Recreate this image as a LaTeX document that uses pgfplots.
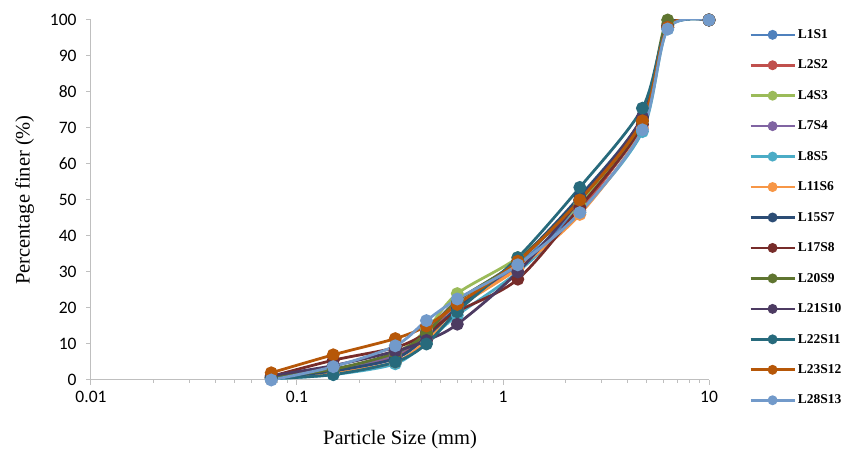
\documentclass[border=0pt]{standalone}
\usepackage{pgfplots}
\pgfplotsset{compat=1.18}
\usepackage{fontspec}
\setmainfont{Liberation Serif}
\newfontfamily\tickfont{Carlito}

\definecolor{c1}{HTML}{4F81BD}
\definecolor{c2}{HTML}{C0504D}
\definecolor{c3}{HTML}{9BBB59}
\definecolor{c4}{HTML}{8064A2}
\definecolor{c5}{HTML}{4BACC6}
\definecolor{c6}{HTML}{F79646}
\definecolor{c7}{HTML}{2C4D75}
\definecolor{c8}{HTML}{772C2A}
\definecolor{c9}{HTML}{5F7530}
\definecolor{c10}{HTML}{4D3B62}
\definecolor{c11}{HTML}{276A7C}
\definecolor{c12}{HTML}{B65708}
\definecolor{c13}{HTML}{729ACA}
\definecolor{axgray}{HTML}{BFBFBF}

% sieve sizes (mm) and percentage finer
\pgfplotstableread{
x      s1   s2   s3   s4   s5   s6   s7   s8   s9   s10  s11  s12  s13
0.075  0.5  0.8  0.6  0.7  0.3  0.5  0.6  1.0  0.8  1.2  0.4  2.0  0.0
0.15   2.5  3.0  2.8  3.0  1.5  2.0  2.5  5.5  3.0  4.0  1.5  7.0  3.7
0.3    6.0  6.5  7.5  7.0  4.5  5.0  6.0  9.0  7.5  8.0  5.0  11.5 9.5
0.425  12   13   14   13.5 10.5 11   12   13   13   11   10   15   16.5
0.6    20   21   24   22   18   20   20   19   22   15.5 19   21   22.5
1.18   32   31   34   33   30   31   33   28   33   30   34   33   32
2.36   48   47   49   50   46.5 46   51   48   50   50   53.5 50   46.5
4.75   71   72   72   73   69   70   73   71   72   73   75.5 72   69.5
6.3    98   98.5 99   98   97.5 98   98.5 98   100  98   98   98   97.5
10     100  100  100  100  100  100  100  100  100  100  100  100  100
}\psd

\begin{document}
\begin{tikzpicture}
\begin{axis}[
  name=main,
  width=618pt, height=360pt, scale only axis,
  xmode=log,
  xmin=0.01, xmax=10, ymin=0, ymax=100,
  xtick={0.01,0.1,1,10},
  xticklabels={0.01,0.1,1,10},
  ytick={0,10,20,30,40,50,60,70,80,90,100},
  yticklabels={0,10,20,30,40,50,60,70,80,90,100},
  minor xtick={},
  axis x line*=bottom, axis y line*=left,
  axis line style={axgray, line width=1pt, -},
  tick align=outside, major tick length=5pt,
  tick style={axgray, line width=1pt},
  ticklabel style={font=\tickfont\fontsize{17.5}{17.5}\selectfont},
  xticklabel style={yshift=-3pt},
  yticklabel style={xshift=-6pt},
  xlabel={Particle Size (mm)},
  ylabel={Percentage finer (\%)},
  label style={font=\fontsize{20.5}{20.5}\selectfont},
  xlabel shift=20pt,
  ylabel shift=9pt,
  legend style={draw=none, fill=none, at={(1.06,0.985)}, anchor=north west,
    font=\bfseries\fontsize{13.5}{14}\selectfont, row sep=16pt,
    legend cell align=left},
  legend image code/.code={%
    \draw[mark repeat=2, mark phase=2, mark size=3.6pt, line width=2.6pt]
      plot coordinates {(0pt,0pt) (22pt,0pt) (44pt,0pt)};},
  every axis plot/.append style={smooth, tension=0.5, line width=2.8pt,
    mark=*, mark size=5pt},
]
\addplot[c1, mark options={fill=c1}] table[x=x, y=s1] {\psd};
\addlegendentry{L1S1}
\addplot[c2, mark options={fill=c2}] table[x=x, y=s2] {\psd};
\addlegendentry{L2S2}
\addplot[c3, mark options={fill=c3}] table[x=x, y=s3] {\psd};
\addlegendentry{L4S3}
\addplot[c4, mark options={fill=c4}] table[x=x, y=s4] {\psd};
\addlegendentry{L7S4}
\addplot[c5, mark options={fill=c5}] table[x=x, y=s5] {\psd};
\addlegendentry{L8S5}
\addplot[c6, mark options={fill=c6}] table[x=x, y=s6] {\psd};
\addlegendentry{L11S6}
\addplot[c7, mark options={fill=c7}] table[x=x, y=s7] {\psd};
\addlegendentry{L15S7}
\addplot[c8, mark options={fill=c8}] table[x=x, y=s8] {\psd};
\addlegendentry{L17S8}
\addplot[c9, mark options={fill=c9}] table[x=x, y=s9] {\psd};
\addlegendentry{L20S9}
\addplot[c10, mark options={fill=c10}] table[x=x, y=s10] {\psd};
\addlegendentry{L21S10}
\addplot[c11, mark options={fill=c11}] table[x=x, y=s11] {\psd};
\addlegendentry{L22S11}
\addplot[c12, mark options={fill=c12}] table[x=x, y=s12] {\psd};
\addlegendentry{L23S12}
\addplot[c13, mark options={fill=c13}] table[x=x, y=s13] {\psd};
\addlegendentry{L28S13}
\end{axis}
\path ([xshift=-91pt,yshift=-74pt]main.south west) rectangle ++(856pt,454pt);
\end{tikzpicture}
\end{document}
